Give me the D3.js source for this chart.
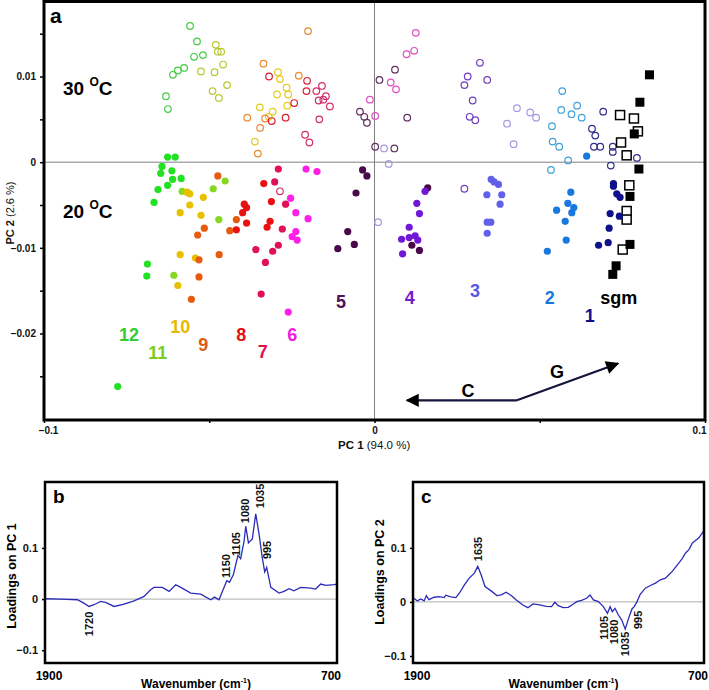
<!DOCTYPE html>
<html>
<head>
<meta charset="utf-8">
<script src="https://cdn.jsdelivr.net/npm/d3@7"></script>
<style>
  body { margin: 0; background: #fff; }
  svg { display: block; font-family: "Liberation Sans", Arial, sans-serif; }
</style>
</head>
<body>
<svg id="chart" width="709" height="690"></svg>
<script>
// ---- PCA scores, 30 oC (open) ----
const g12_30 = [[-0.0558,0.0159],[-0.0537,0.0141],[-0.0546,0.0123],[-0.0519,0.0125],[-0.0576,0.0110],[-0.0595,0.0107],[-0.0610,0.0102],[-0.0631,0.0077],[-0.0625,0.0062]];
const g11_30 = [[-0.0480,0.0137],[-0.0474,0.0129],[-0.0464,0.0129],[-0.0458,0.0114],[-0.0525,0.0106],[-0.0484,0.0105],[-0.0446,0.0090],[-0.0490,0.0083],[-0.0471,0.0075]];
const g10_30 = [[-0.0292,0.0105],[-0.0286,0.0097],[-0.0266,0.0087],[-0.0261,0.0079],[-0.0295,0.0079],[-0.0264,0.0066],[-0.0347,0.0064],[-0.0308,0.0059],[-0.0320,0.0053],[-0.0362,0.0024]];
const g9_30 = [[-0.0201,0.0153],[-0.0336,0.0115],[-0.0229,0.0101],[-0.0385,0.0052],[-0.0346,0.0040],[-0.0331,0.0051],[-0.0353,0.0010]];
const g8_30 = [[-0.0319,0.0100],[-0.0311,0.0048],[-0.0269,0.0052],[-0.0243,0.0069],[-0.0204,0.0095],[-0.0206,0.0083]];
const g7_30 = [[-0.0176,0.0083],[-0.0159,0.0089],[-0.0169,0.0072],[-0.0155,0.0073],[-0.0147,0.0077],[-0.0135,0.0065],[-0.0167,0.0050],[-0.0210,0.0032],[-0.0197,0.0023],[-0.0286,-0.0034]];
const g6_30 = [[0.0125,0.0151],[0.0120,0.0130],[0.0097,0.0126],[0.0049,0.0093],[0.0065,0.0085],[-0.0014,0.0073],[0.0002,0.0054]];
const g5_30 = [[0.0062,0.0108],[0.0015,0.0096],[-0.0044,0.0059],[-0.0031,0.0053],[-0.0023,0.0046],[0.0002,0.0018],[0.0060,0.0016],[0.0099,0.0052]];
const g4_30 = [[0.0319,0.0116],[0.0282,0.0100],[0.0272,0.0090],[0.0341,0.0096],[0.0297,0.0072],[0.0288,0.0053],[0.0305,0.0049],[0.0272,-0.0031]];
const g3_30 = [[0.0431,0.0063],[0.0471,0.0058],[0.0489,0.0052],[0.0401,0.0045],[0.0421,0.0021],[0.0029,0.0016],[0.0043,-0.0002],[0.0011,-0.0070]];
const g2_30 = [[0.0568,0.0083],[0.0613,0.0066],[0.0596,0.0056],[0.0627,0.0052],[0.0565,0.0061],[0.0537,0.0042],[0.0539,0.0024],[0.0559,0.0018],[0.0586,0.0002],[0.0534,-0.0009]];
const g1_30 = [[0.0692,0.0059],[0.0658,0.0039],[0.0668,0.0031],[0.0664,0.0018],[0.0683,0.0018],[0.0721,0.0018],[0.0721,0.0012],[0.0715,-0.0004],[0.0794,0.0005]];
const sgm_30 = [[0.0743,0.0055],[0.0785,0.0051],[0.0797,0.0036],[0.0746,0.0023],[0.0763,0.0008],[0.0771,-0.0027],[0.0763,-0.0057],[0.0763,-0.0067],[0.0751,-0.0102]];

// ---- PCA scores, 20 oC (filled) ----
const g12_20 = [[-0.0626,0.0006],[-0.0603,0.0006],[-0.0643,-0.0005],[-0.0647,-0.0013],[-0.0613,-0.0010],[-0.0611,-0.0020],[-0.0585,-0.0019],[-0.0626,-0.0027],[-0.0655,-0.0032],[-0.0667,-0.0047],[-0.0687,-0.0119],[-0.0689,-0.0133],[-0.0777,-0.0262]];
const g11_20 = [[-0.0452,-0.0022],[-0.0488,-0.0031],[-0.0471,-0.0067],[-0.0582,-0.0034],[-0.0607,-0.0132]];
const g10_20 = [[-0.0567,-0.0035],[-0.0559,-0.0037],[-0.0518,-0.0041],[-0.0559,-0.0050],[-0.0588,-0.0059],[-0.0525,-0.0062],[-0.0588,-0.0108],[-0.0542,-0.0112],[-0.0595,-0.0144]];
const g9_20 = [[-0.0474,-0.0016],[-0.0418,-0.0067],[-0.0438,-0.0080],[-0.0515,-0.0077],[-0.0535,-0.0085],[-0.0470,-0.0108],[-0.0531,-0.0114],[-0.0531,-0.0134],[-0.0554,-0.0160]];
const g8_20 = [[-0.0335,-0.0025],[-0.0394,-0.0049],[-0.0387,-0.0053],[-0.0399,-0.0059],[-0.0312,-0.0046],[-0.0387,-0.0071],[-0.0316,-0.0069],[-0.0325,-0.0076],[-0.0418,-0.0079]];
const g7_20 = [[-0.0291,-0.0008],[-0.0302,-0.0023],[-0.0269,-0.0049],[-0.0279,-0.0078],[-0.0291,-0.0097],[-0.0308,-0.0104],[-0.0330,-0.0117],[-0.0359,-0.0102],[-0.0343,-0.0154]];
const g6_20 = [[-0.0207,-0.0008],[-0.0174,-0.0011],[-0.0254,-0.0042],[-0.0238,-0.0059],[-0.0201,-0.0066],[-0.0238,-0.0081],[-0.0249,-0.0087],[-0.0234,-0.0091],[-0.0261,-0.0175]];
const g5_20 = [[-0.0036,-0.0009],[-0.0023,-0.0016],[-0.0056,-0.0036],[-0.0081,-0.0081],[-0.0061,-0.0096],[-0.0111,-0.0101],[0.0161,-0.0030],[0.0113,-0.0097],[0.0136,-0.0103]];
const g4_20 = [[0.0153,-0.0034],[0.0128,-0.0048],[0.0136,-0.0060],[0.0105,-0.0076],[0.0082,-0.0090],[0.0105,-0.0088],[0.0123,-0.0086],[0.0131,-0.0091],[0.0085,-0.0107]];
const g3_20 = [[0.0353,-0.0020],[0.0362,-0.0023],[0.0375,-0.0026],[0.0340,-0.0038],[0.0385,-0.0038],[0.0380,-0.0049],[0.0341,-0.0070],[0.0352,-0.0070],[0.0341,-0.0083]];
const g2_20 = [[0.0642,0.0007],[0.0594,-0.0035],[0.0585,-0.0048],[0.0603,-0.0053],[0.0551,-0.0056],[0.0597,-0.0059],[0.0577,-0.0069],[0.0580,-0.0091],[0.0523,-0.0104]];
const g1_20 = [[0.0723,-0.0025],[0.0723,-0.0028],[0.0733,-0.0037],[0.0743,-0.0041],[0.0713,-0.0060],[0.0741,-0.0063],[0.0710,-0.0077],[0.0707,-0.0094],[0.0678,-0.0097]];
const sgm_20 = [[0.0832,0.0102],[0.0803,0.0070],[0.0786,0.0033],[0.0800,-0.0008],[0.0773,-0.0040],[0.0773,-0.0096],[0.0731,-0.0121],[0.0721,-0.0131]];

const groupIds = ["12","11","10","9","8","7","6","5","4","3","2","1","sgm"];
const scores30 = [g12_30,g11_30,g10_30,g9_30,g8_30,g7_30,g6_30,g5_30,g4_30,g3_30,g2_30,g1_30,sgm_30];
const scores20 = [g12_20,g11_20,g10_20,g9_20,g8_20,g7_20,g6_20,g5_20,g4_20,g3_20,g2_20,g1_20,sgm_20];
// where each group label sits (data units)
const groupLabelPos = [[-0.0743,-0.0202],[-0.0656,-0.0223],[-0.0588,-0.0193],[-0.0518,-0.0213],[-0.0403,-0.0202],[-0.0338,-0.0222],[-0.0249,-0.0202],[-0.0101,-0.0163],[0.0107,-0.0159],[0.0304,-0.0150],[0.0530,-0.0159],[0.0651,-0.0180],[0.0739,-0.0159]];

// ---- loadings spectra ----
const wnB = [1900,1835,1767,1740,1719,1699,1671,1651,1616,1575,1534,1493,1466,1452,1418,1390,1363,1342,1301,1260,1219,1203,1185,1171,1153,1142,1126,1107,1096,1082,1075,1064,1048,1034,1020,1007,997,989,972,938,918,897,877,849,808,788,767,746,712,700];
const loadB = [0.0007,0,-0.0013,-0.008,-0.0144,-0.011,-0.0046,-0.0065,-0.0144,-0.0098,-0.0033,0.0052,0.0183,0.0229,0.0229,0.015,0.0281,0.0229,0.0118,0.0098,-0.0013,0.0039,-0.0013,0.015,0.0359,0.0327,0.0477,0.0856,0.0791,0.1131,0.1425,0.1098,0.1176,0.1667,0.1261,0.0804,0.0529,0.0621,0.0229,0.0118,0.015,0.0203,0.0163,0.0229,0.0216,0.0196,0.0294,0.0268,0.0281,0.0294];
const wnC = [1896,1882,1868,1854,1845,1834,1813,1792,1771,1765,1744,1723,1709,1688,1668,1647,1633,1619,1603,1578,1554,1536,1516,1495,1474,1447,1426,1405,1378,1350,1329,1315,1301,1281,1260,1240,1225,1205,1184,1170,1156,1136,1115,1098,1087,1078,1067,1053,1039,1025,1011,997,988,976,963,942,921,900,880,859,845,831,818,804,790,776,762,748,735,721,707,700];
const loadC = [0.0068,0.0019,0.0056,0.0019,0.0118,0.0043,0.0087,0.0099,0.0081,0.0124,0.0093,0.0081,0.0161,0.0317,0.0441,0.0534,0.0658,0.0503,0.0286,0.0205,0.0118,0.013,0.018,0.0118,0.0037,-0.0056,-0.0106,-0.0037,-0.0056,-0.0081,-0.0087,-0.0006,-0.0068,-0.0106,-0.0099,-0.0043,0.0006,0.0031,0.0068,0.013,0.0037,0.0006,-0.0087,-0.0211,-0.0087,-0.018,-0.0118,-0.0242,-0.0335,-0.0503,-0.0304,-0.013,-0.0087,0.0006,0.0143,0.0255,0.0304,0.0348,0.041,0.0441,0.0503,0.0565,0.0639,0.072,0.0801,0.0906,0.0968,0.1093,0.1136,0.1186,0.1279,0.1322];
// peak annotations: [text, wavenumber, loading]
const peaksB = [["1720",1719,-0.0487],["1150",1157,0.0648],["1105",1116,0.1078],["1080",1079,0.1724],["1035",1016,0.2018],["995",989,0.0961]];
const peaksC = [["1635",1631,0.098],["1105",1112,-0.048],["1080",1071,-0.0556],["1035",1026,-0.0778],["995",973,-0.0333]];

// colours
const fillColors = ["#22e022","#86d820","#e8c000","#e85a10","#e81010","#e0105a","#ff20e8","#4a0a4a","#7018d8","#6060e8","#1878e0","#10108a","#000"];
const openColors = ["#44cc44","#b8c830","#e6cc20","#e88a30","#d82030","#d0306a","#e050c0","#603060","#7040c0","#a898e0","#40a0d8","#303088","#000"];
const labelColors = ["#33cc33","#77cc22","#e8b800","#e05a10","#e01010","#e0104a","#f020e0","#50105a","#7020d0","#5858e0","#1878e0","#10108a","#000"];

const svg = d3.select("#chart");
svg.append("rect").attr("width",709).attr("height",690).attr("fill","#fff");

// ================= panel a =================
const x = d3.scaleLinear().domain([-0.1,0.1]).range([44,705]);
const y = d3.scaleLinear().domain([-0.0301,0.0187]).range([420,2]);

// zero lines
svg.append("line").attr("x1",x(0)).attr("x2",x(0)).attr("y1",2).attr("y2",420)
    .attr("stroke","#808080").attr("stroke-width",1);
svg.append("line").attr("x1",44).attr("x2",705).attr("y1",y(0)).attr("y2",y(0))
    .attr("stroke","#808080").attr("stroke-width",1);

const yLabelVals = [-0.02,-0.01,0,0.01];
const yAxis = svg.append("g").attr("transform","translate(44,0)")
    .call(d3.axisLeft(y)
        .tickValues([-0.025,-0.02,-0.015,-0.01,-0.005,0,0.005,0.01,0.015])
        .tickSize(4).tickPadding(4)
        .tickFormat(d => yLabelVals.some(v => Math.abs(v - d) < 1e-9) ? (d === 0 ? "0" : d3.format(".2f")(d)) : ""));
const xLabelVals = [-0.1,0,0.1];
const xAxis = svg.append("g").attr("transform","translate(0,420)")
    .call(d3.axisBottom(x)
        .tickValues([-0.1,-0.05,0,0.05,0.1])
        .tickSize(3).tickPadding(4)
        .tickFormat(d => xLabelVals.some(v => Math.abs(v - d) < 1e-9) ? (d === 0 ? "0" : d3.format(".1f")(d)) : ""));
[yAxis, xAxis].forEach(g => {
    g.select(".domain").remove();
    g.selectAll("text").attr("font-size",10).attr("font-weight","bold").attr("fill","#111")
        .attr("font-family","Liberation Sans, Arial, sans-serif");
    g.selectAll("line").attr("stroke","#000").attr("stroke-width",1.5);
});
// keep the end labels inside the page, as in the original
xAxis.selectAll(".tick text").filter(d => d === 0.1).attr("text-anchor","end").attr("x",1);
xAxis.selectAll(".tick text").filter(d => d === -0.1).attr("x",4);

// open circles / squares (30 oC)
scores30.forEach((pts, i) => {
    if (groupIds[i] === "sgm") {
        svg.append("g").selectAll("rect").data(pts).enter().append("rect")
            .attr("x", d => x(d[0]) - 4.5).attr("y", d => y(d[1]) - 4.5)
            .attr("width",9).attr("height",9)
            .attr("fill","#fff").attr("stroke","#000").attr("stroke-width",1.5);
    } else {
        svg.append("g").selectAll("circle").data(pts).enter().append("circle")
            .attr("cx", d => x(d[0])).attr("cy", d => y(d[1])).attr("r",3.3)
            .attr("fill","none").attr("stroke",openColors[i]).attr("stroke-width",1.2);
    }
});
// filled (20 oC)
scores20.forEach((pts, i) => {
    if (groupIds[i] === "sgm") {
        svg.append("g").selectAll("rect").data(pts).enter().append("rect")
            .attr("x", d => x(d[0]) - 4.5).attr("y", d => y(d[1]) - 4.5)
            .attr("width",9).attr("height",9).attr("fill","#000");
    } else {
        svg.append("g").selectAll("circle").data(pts).enter().append("circle")
            .attr("cx", d => x(d[0])).attr("cy", d => y(d[1])).attr("r",3.6)
            .attr("fill",fillColors[i]);
    }
});

// group labels
svg.append("g").selectAll("text").data(groupIds).enter().append("text")
    .attr("x", (d,i) => x(groupLabelPos[i][0]))
    .attr("y", (d,i) => y(groupLabelPos[i][1]) + 6)
    .attr("text-anchor","middle")
    .attr("font-size",18).attr("font-weight","bold")
    .attr("fill", (d,i) => labelColors[i])
    .text(d => d);

// temperature labels
function tempLabel(t, py) {
    const txt = svg.append("text").attr("x",63).attr("y",py)
        .attr("font-size",19).attr("font-weight","bold").attr("fill","#000");
    txt.append("tspan").text(t + " ");
    txt.append("tspan").attr("font-size",12).attr("dy",-9).text("O");
    txt.append("tspan").attr("dy",9).text("C");
}
tempLabel("30", 95);
tempLabel("20", 218);

svg.append("text").attr("x",50).attr("y",23).attr("font-size",21).attr("font-weight","bold").text("a");

// direction arrows
const defs = svg.append("defs");
defs.append("marker").attr("id","head").attr("viewBox","0 0 10 10")
    .attr("refX",9).attr("refY",5).attr("markerWidth",9).attr("markerHeight",6)
    .attr("markerUnits","strokeWidth").attr("orient","auto")
    .append("path").attr("d","M0,0L10,5L0,10Z").attr("fill","#000");
const arrowBase = [0.0431,-0.0278];
const arrowTips = [[0.0098,-0.0278],[0.0737,-0.0235]];
arrowTips.forEach(t => {
    svg.append("line")
        .attr("x1",x(arrowBase[0])).attr("y1",y(arrowBase[1]))
        .attr("x2",x(t[0])).attr("y2",y(t[1]))
        .attr("stroke","#14143c").attr("stroke-width",2.2)
        .attr("marker-end","url(#head)");
});
svg.append("text").attr("x",468).attr("y",397).attr("text-anchor","middle")
    .attr("font-size",18).attr("font-weight","bold").text("C");
svg.append("text").attr("x",557).attr("y",378).attr("text-anchor","middle")
    .attr("font-size",18).attr("font-weight","bold").text("G");

// frame
svg.append("rect").attr("x",44).attr("y",1.5).attr("width",661).attr("height",418.5)
    .attr("fill","none").attr("stroke","#000").attr("stroke-width",3);

// axis titles
const xt = svg.append("text").attr("x",338).attr("y",449).attr("font-size",11.5).attr("fill","#111");
xt.append("tspan").attr("font-weight","bold").text("PC 1 ");
xt.append("tspan").text("(94.0 %)");
const yt = svg.append("text").attr("transform","translate(14,213) rotate(-90)")
    .attr("text-anchor","middle").attr("font-size",11).attr("fill","#111");
yt.append("tspan").attr("font-weight","bold").text("PC 2 ");
yt.append("tspan").text("(2.6 %)");

// ================= panels b and c =================
function loadingPanel(opts) {
    const xs = d3.scaleLinear().domain([1900,700]).range([opts.left, opts.right]);
    const ys = d3.scaleLinear().domain(opts.yDomain).range([663,482]);

    svg.append("line").attr("x1",opts.left).attr("x2",opts.right)
        .attr("y1",ys(0)).attr("y2",ys(0)).attr("stroke","#bdbdbd").attr("stroke-width",1.2);

    const ax = svg.append("g").attr("transform",`translate(${opts.left},0)`)
        .call(d3.axisLeft(ys).tickValues([-0.1,0,0.1]).tickSize(3).tickPadding(4)
            .tickFormat(d => d === 0 ? "0" : d3.format(".1f")(d)));
    ax.select(".domain").remove();
    ax.selectAll("line").attr("stroke","#000").attr("stroke-width",1.5);
    ax.selectAll("text").attr("font-size",11).attr("font-weight","bold").attr("fill","#111")
        .attr("font-family","Liberation Sans, Arial, sans-serif");

    const line = d3.line().x(d => xs(d[0])).y(d => ys(d[1]));
    svg.append("path").datum(opts.wn.map((w,i) => [w, opts.load[i]]))
        .attr("d", line).attr("fill","none").attr("stroke","#2b2bb8").attr("stroke-width",1.3);

    svg.append("g").selectAll("text").data(opts.peaks).enter().append("text")
        .attr("transform", d => `translate(${xs(d[1]) + 4},${ys(d[2])}) rotate(-90)`)
        .attr("text-anchor","middle")
        .attr("font-size",11).attr("font-weight","bold").attr("fill","#111")
        .text(d => d[0]);

    svg.append("rect").attr("x",opts.left).attr("y",482)
        .attr("width",opts.right - opts.left).attr("height",181)
        .attr("fill","none").attr("stroke","#000").attr("stroke-width",2.5);

    svg.append("text").attr("x",opts.left + 8).attr("y",503)
        .attr("font-size",19).attr("font-weight","bold").text(opts.tag);

    svg.append("text").attr("x",opts.left + 4).attr("y",680).attr("text-anchor","middle")
        .attr("font-size",12).attr("font-weight","bold").text("1900");
    svg.append("text").attr("x",opts.right - 6).attr("y",680).attr("text-anchor","middle")
        .attr("font-size",12).attr("font-weight","bold").text("700");

    const wt = svg.append("text").attr("x",(opts.left + opts.right) / 2 + 5).attr("y",688)
        .attr("text-anchor","middle").attr("font-size",12).attr("font-weight","bold");
    wt.append("tspan").text("Wavenumber (cm");
    wt.append("tspan").attr("font-size",7).attr("dy",-5).text("-1");
    wt.append("tspan").attr("dy",5).text(")");

    svg.append("text").attr("transform",`translate(${opts.left - 29},${opts.titleY}) rotate(-90)`)
        .attr("text-anchor","middle").attr("font-size",12.5).attr("font-weight","bold")
        .text(opts.yTitle);
}

loadingPanel({left:45, right:337, yDomain:[-0.125,0.229], wn:wnB, load:loadB,
    peaks:peaksB, tag:"b", yTitle:"Loadings on PC 1", titleY:576});
loadingPanel({left:413, right:704, yDomain:[-0.113,0.222], wn:wnC, load:loadC,
    peaks:peaksC, tag:"c", yTitle:"Loadings on PC 2", titleY:572});
</script>
</body>
</html>
